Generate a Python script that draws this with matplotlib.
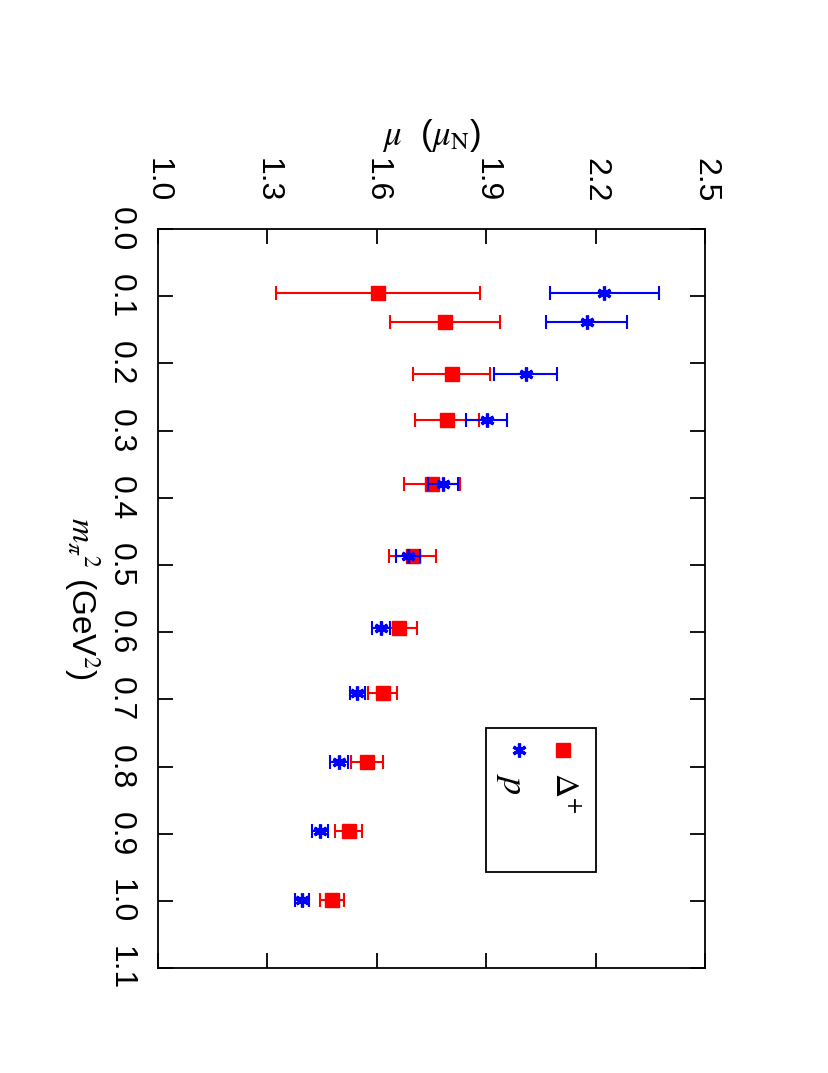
import matplotlib
matplotlib.use('Agg')
import matplotlib.pyplot as plt
from matplotlib.patches import Rectangle

plt.rcParams['font.family'] = ['Liberation Sans', 'DejaVu Sans']
plt.rcParams['mathtext.fontset'] = 'stix'

# pion mass squared (GeV^2), shared by both series
m_pi2 = [0.0945, 0.139, 0.216, 0.284, 0.379, 0.486, 0.593, 0.690, 0.793, 0.896, 0.998]

# Delta+ magnetic moment (mu_N)
mu_delta = [1.604, 1.787, 1.805, 1.792, 1.752, 1.698, 1.662, 1.616, 1.573, 1.523, 1.477]
err_delta = [0.280, 0.151, 0.105, 0.087, 0.077, 0.065, 0.049, 0.039, 0.043, 0.036, 0.033]

# proton magnetic moment (mu_N)
mu_p = [2.223, 2.175, 2.008, 1.901, 1.782, 1.686, 1.611, 1.547, 1.497, 1.445, 1.396]
err_p = [0.149, 0.110, 0.087, 0.057, 0.041, 0.033, 0.024, 0.020, 0.025, 0.022, 0.019]

mu_ticks = [1.0, 1.3, 1.6, 1.9, 2.2, 2.5]
m_ticks = [0.0, 0.1, 0.2, 0.3, 0.4, 0.5, 0.6, 0.7, 0.8, 0.9, 1.0, 1.1]

W, H = 829, 1073
fig = plt.figure(figsize=(W / 100, H / 100), dpi=100)
fig.patch.set_facecolor('white')
ax = fig.add_axes([157.7 / W, 1 - 968.3 / H, 547.6 / W, 739.3 / H])

# page is drawn rotated: mu runs left->right, m_pi^2 runs top->bottom
ax.errorbar(mu_delta, m_pi2, xerr=err_delta, fmt='s', color='#ff0000',
            ms=9.5, elinewidth=1.5, capsize=5, capthick=1.5, zorder=3)
ax.errorbar(mu_p, m_pi2, xerr=err_p, fmt='none', ecolor='#0000ff',
            elinewidth=1.5, capsize=5, capthick=1.5, zorder=4)
ax.plot(mu_p, m_pi2, ls='none', marker=(6, 2, 0), color='#0000ff',
        ms=10, mew=2.3, zorder=5)

ax.set_xlim(1.0, 2.5)
ax.set_ylim(1.1, 0.0)
ax.set_xticks(mu_ticks)
ax.set_xticklabels([f'{v:.1f}' for v in mu_ticks], rotation=-90, fontsize=23)
ax.set_yticks(m_ticks)
ax.set_yticklabels([f'{v:.1f}' for v in m_ticks], rotation=-90, fontsize=23,
                   va='center')
ax.tick_params(axis='both', direction='in', length=10.8, width=1.3,
               top=True, bottom=True, left=True, right=True,
               labeltop=True, labelbottom=False, labelleft=True, labelright=False)
ax.tick_params(axis='x', pad=19.4)
ax.tick_params(axis='y', pad=16)
for spine in ax.spines.values():
    spine.set_linewidth(1.3)

ax.xaxis.set_label_position('top')
ax.set_xlabel(r'$\mu$  ($\mu_{\rm N}$)', fontsize=25, labelpad=9)
ax.set_ylabel(r'$m_\pi{}^2$ (GeV$^2$)', fontsize=24, rotation=-90,
              va='top', labelpad=3)

# hand-made legend box, rotated like the rest of the page
ax.add_patch(Rectangle((0.5995, 0.1299), 0.2008, 0.1947, transform=ax.transAxes,
                       fill=False, lw=1.3, ec='black', zorder=6))
ax.plot([0.7402], [0.2953], 's', color='#ff0000', ms=9.5, transform=ax.transAxes,
        clip_on=False, zorder=7)
ax.plot([0.6598], [0.2953], ls='none', marker=(6, 2, 0), color='#0000ff', ms=10,
        mew=2.3, transform=ax.transAxes, clip_on=False, zorder=7)
ax.text(0.741, 0.238, r'$\Delta^{+}$', transform=ax.transAxes, rotation=-90,
        ha='center', va='center', fontsize=24)
ax.text(0.6456, 0.2492, r'$p$', transform=ax.transAxes, rotation=-90,
        ha='center', va='center', fontsize=26)

fig.savefig('out.png', dpi=100, facecolor='white')
